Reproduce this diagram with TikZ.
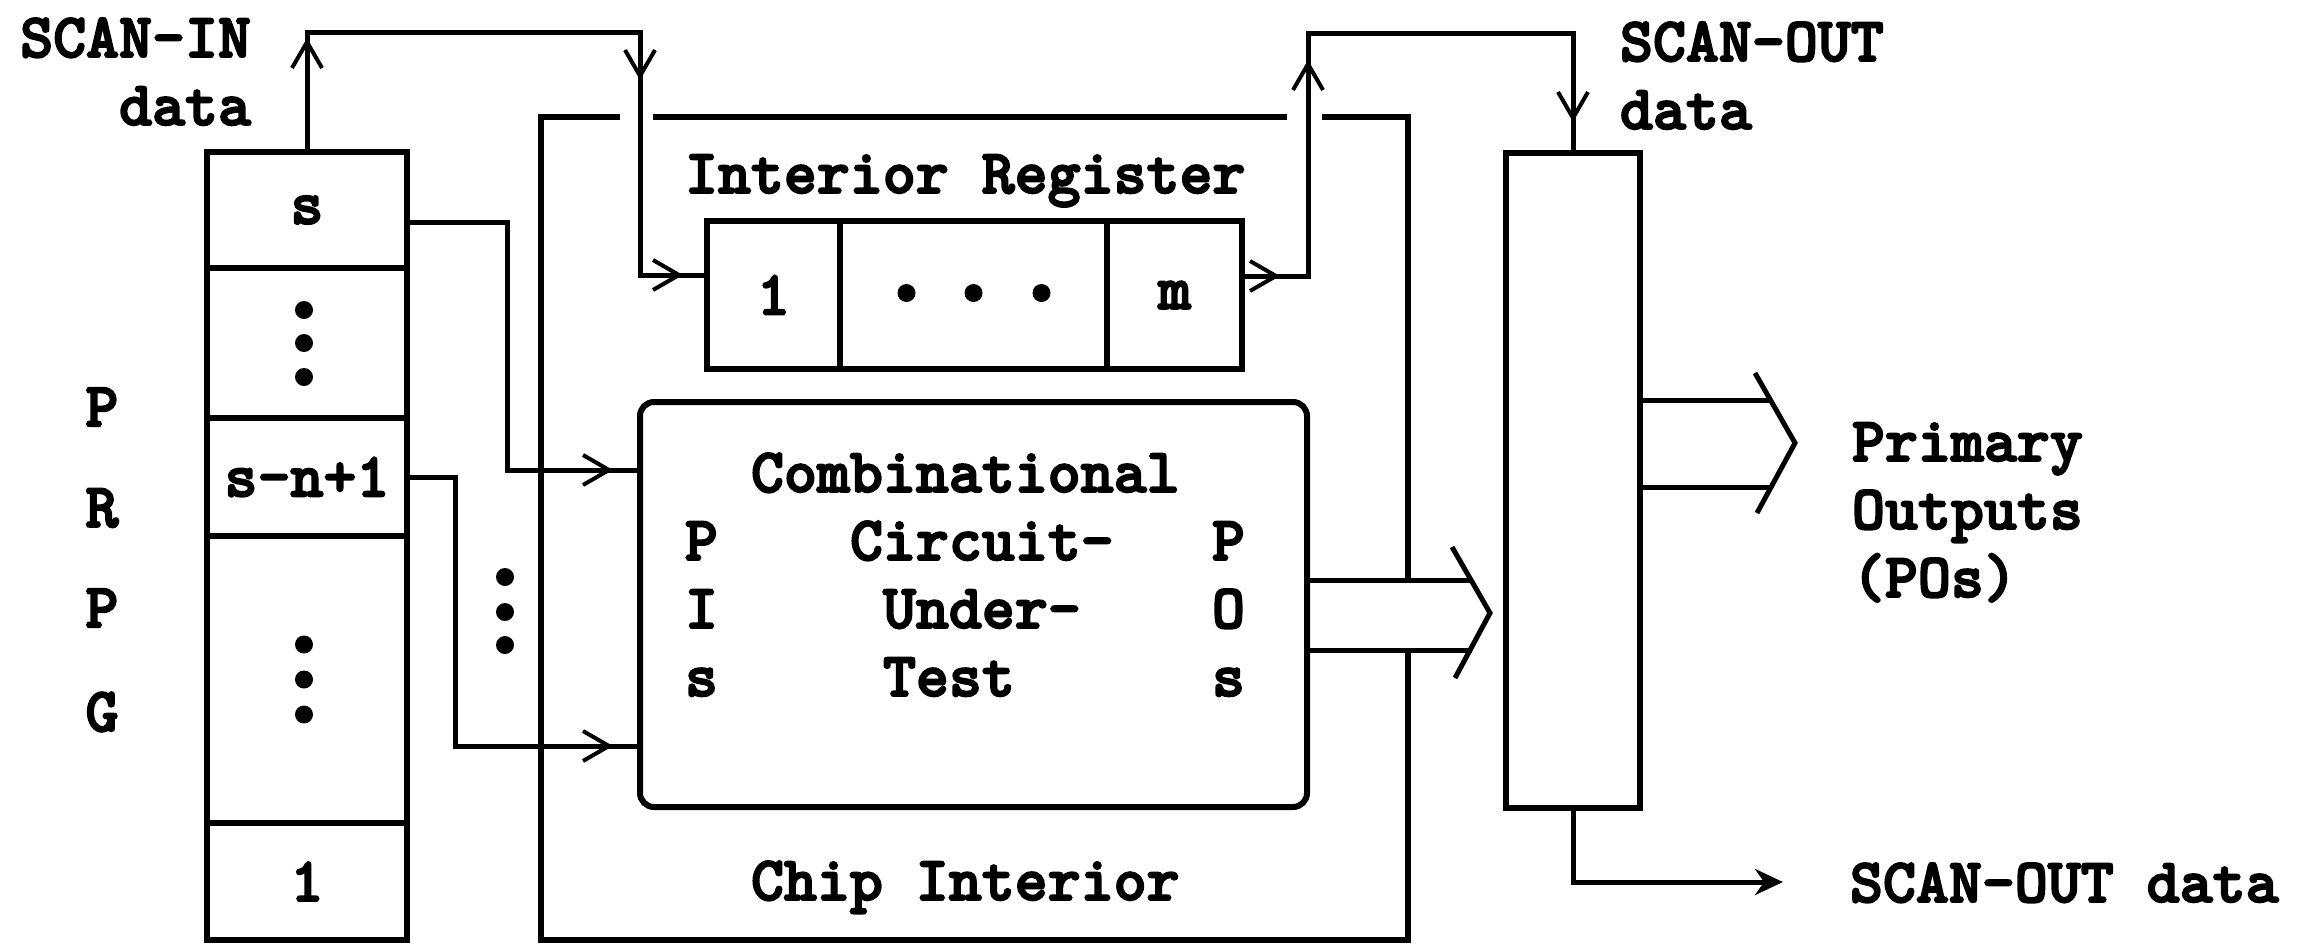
\documentclass[tikz,border=0pt]{standalone}
\usepackage{fontspec}
\newfontfamily\prmono[FakeBold=3]{lmmonolt10-bold.otf}
\usetikzlibrary{arrows.meta,decorations.markings}
\tikzset{
  barb/.tip={Straight Barb[length=26pt,width=30pt,line width=4pt]},
  lbl/.style={inner sep=0pt, outer sep=0pt, font=\prmono\fontsize{62.8}{68}\selectfont},
  boxline/.style={draw, line width=6pt},
  cell/.style={boxline, lbl, anchor=center},
  wire/.style={draw, line width=5pt},
  bw/.style={lbl, anchor=base west},
  be/.style={lbl, anchor=base east},
  ctr/.style={lbl, anchor=center},
}
\begin{document}
\begin{tikzpicture}[x=1pt,y=-1pt,line join=miter]
\fill[white] (0,0) rectangle (2298,945);
\useasboundingbox (0,0) rectangle (2298,945);

% PRPG
\node[cell, minimum width=200pt, minimum height=116pt] (c1) at (307,210) {s};
\node[cell, minimum width=200pt, minimum height=150pt] (c2) at (307,343) {};
\node[cell, minimum width=200pt, minimum height=118pt] (c3) at (307,477) {s-n+1};
\node[cell, minimum width=200pt, minimum height=287pt] (c4) at (307,679.5) {};
\node[cell, minimum width=200pt, minimum height=117pt] (c5) at (307,881.5) {1};
\foreach \d in {-33,0,34} \fill ([shift={(-3,\d)}]c2.center) circle[radius=9pt];
\foreach \d in {-35,0,35} \fill ([shift={(-3,\d)}]c4.center) circle[radius=9pt];
\node[ctr] (lP1) at (102,407) {P};
\node[ctr] (lR) at (102,508) {R};
\node[ctr] (lP2) at (102,608) {P};
\node[ctr] (lG) at (102,712) {G};

% scan-in label
\node[be] (si) at (251,57) {SCAN-IN};
\node[be] (sid) at (251,125) {data};

% chip interior
\draw[boxline] (620,117) -- (541,117) -- (541,940) -- (1408,940) -- (1408,650);
\draw[boxline] (653,117) -- (1287,117);
\draw[boxline] (1322,117) -- (1408,117) -- (1408,580);
\node[bw] (chip) at (751,900) {Chip Interior};

% interior register
\node[bw] (irl) at (685,193) {Interior Register};
\node[cell, minimum width=133pt, minimum height=148pt] (r1) at (773.5,295) {1};
\node[cell, minimum width=267pt, minimum height=148pt] (r2) at (973.5,295) {};
\node[cell, minimum width=135pt, minimum height=148pt] (r3) at (1174.5,295) {m};
\foreach \d in {-67,0,68} \fill ([shift={(\d,-2)}]r2.center) circle[radius=9pt];

% CUT
\node[boxline, rounded corners=14pt, minimum width=667pt, minimum height=405pt] (cut) at (973.5,604.5) {};
\node[bw] (t0) at (751,492) {Combinational};
\node[bw] (t1a) at (685,560) {P};
\node[bw] (t1b) at (850,560) {Circuit-};
\node[bw] (t1c) at (1212,560) {P};
\node[bw] (t2a) at (685,628) {I};
\node[bw] (t2b) at (883,628) {Under-};
\node[bw] (t2c) at (1212,628) {O};
\node[bw] (t3a) at (685,696) {s};
\node[bw] (t3b) at (883,696) {Test};
\node[bw] (t3c) at (1212,696) {s};

% dots between wires
\foreach \y in {577,612,645} \fill (505,\y) circle[radius=9pt];

% output register
\node[boxline, minimum width=134pt, minimum height=655pt] (outreg) at (1573,480.5) {};

% fat arrows
\draw[wire] (1307,580) -- (1472,580);
\draw[wire] (1307,650) -- (1472,650);
\draw[wire] (1452,547) -- (1490,613) -- (1455,678);
\draw[wire] (1640,400) -- (1771,400);
\draw[wire] (1640,487) -- (1771,487);
\draw[wire] (1755,373) -- (1795,443) -- (1757,513);

% labels right
\node[bw] (so) at (1620,61) {SCAN-OUT};
\node[bw] (sod) at (1620,129) {data};
\node[bw] (po1) at (1852,461) {Primary};
\node[bw] (po2) at (1852,529) {Outputs};
\node[bw] (po3) at (1852,597) {(POs)};
\node[bw] (sob) at (1850,902) {SCAN-OUT data};

% scan-in path
\coordinate (si1) at (307,32);
\coordinate (si2) at (640,32);
\coordinate (si3) at (640,275);
\draw[wire, postaction={decorate}, decoration={markings,
   mark=at position 114pt with {\arrow{barb}},
   mark=at position 501pt with {\arrow{barb}},
   mark=at position 739pt with {\arrow{barb}}}]
  (c1.north) -- (si1) -- (si2) -- (si3) -- (si3 -| r1.west);

% register to scan-out register
\coordinate (so1) at (1308,276);
\coordinate (so2) at (1308,33);
\coordinate (so3) at (1573,33);
\draw[wire, postaction={decorate}, decoration={markings,
   mark=at position 38pt with {\arrow{barb}},
   mark=at position 282pt with {\arrow{barb}},
   mark=at position 663pt with {\arrow{barb}}}]
  (r3.east |- so1) -- (so1) -- (so2) -- (so3) -- (outreg.north);

% s wire
\coordinate (sw1) at (507,222);
\coordinate (sw2) at (507,470);
\draw[wire, postaction={decorate}, decoration={markings,
   mark=at position 454pt with {\arrow{barb}}}]
  (c1.east |- sw1) -- (sw1) -- (sw2) -- (sw2 -| cut.west);

% s-n+1 wire
\coordinate (sn1) at (455,746);
\draw[wire, postaction={decorate}, decoration={markings,
   mark=at position 475pt with {\arrow{barb}}}]
  (c3.east) -- (c3.east -| sn1) -- (sn1) -- (sn1 -| cut.west);

% scan-out bottom
\coordinate (sb1) at (1573,882);
\coordinate (sbe) at (1783,882);
\draw[wire, -{Stealth[length=28pt,width=26pt]}] (outreg.south) -- (sb1) -- (sbe);
\end{tikzpicture}
\end{document}
